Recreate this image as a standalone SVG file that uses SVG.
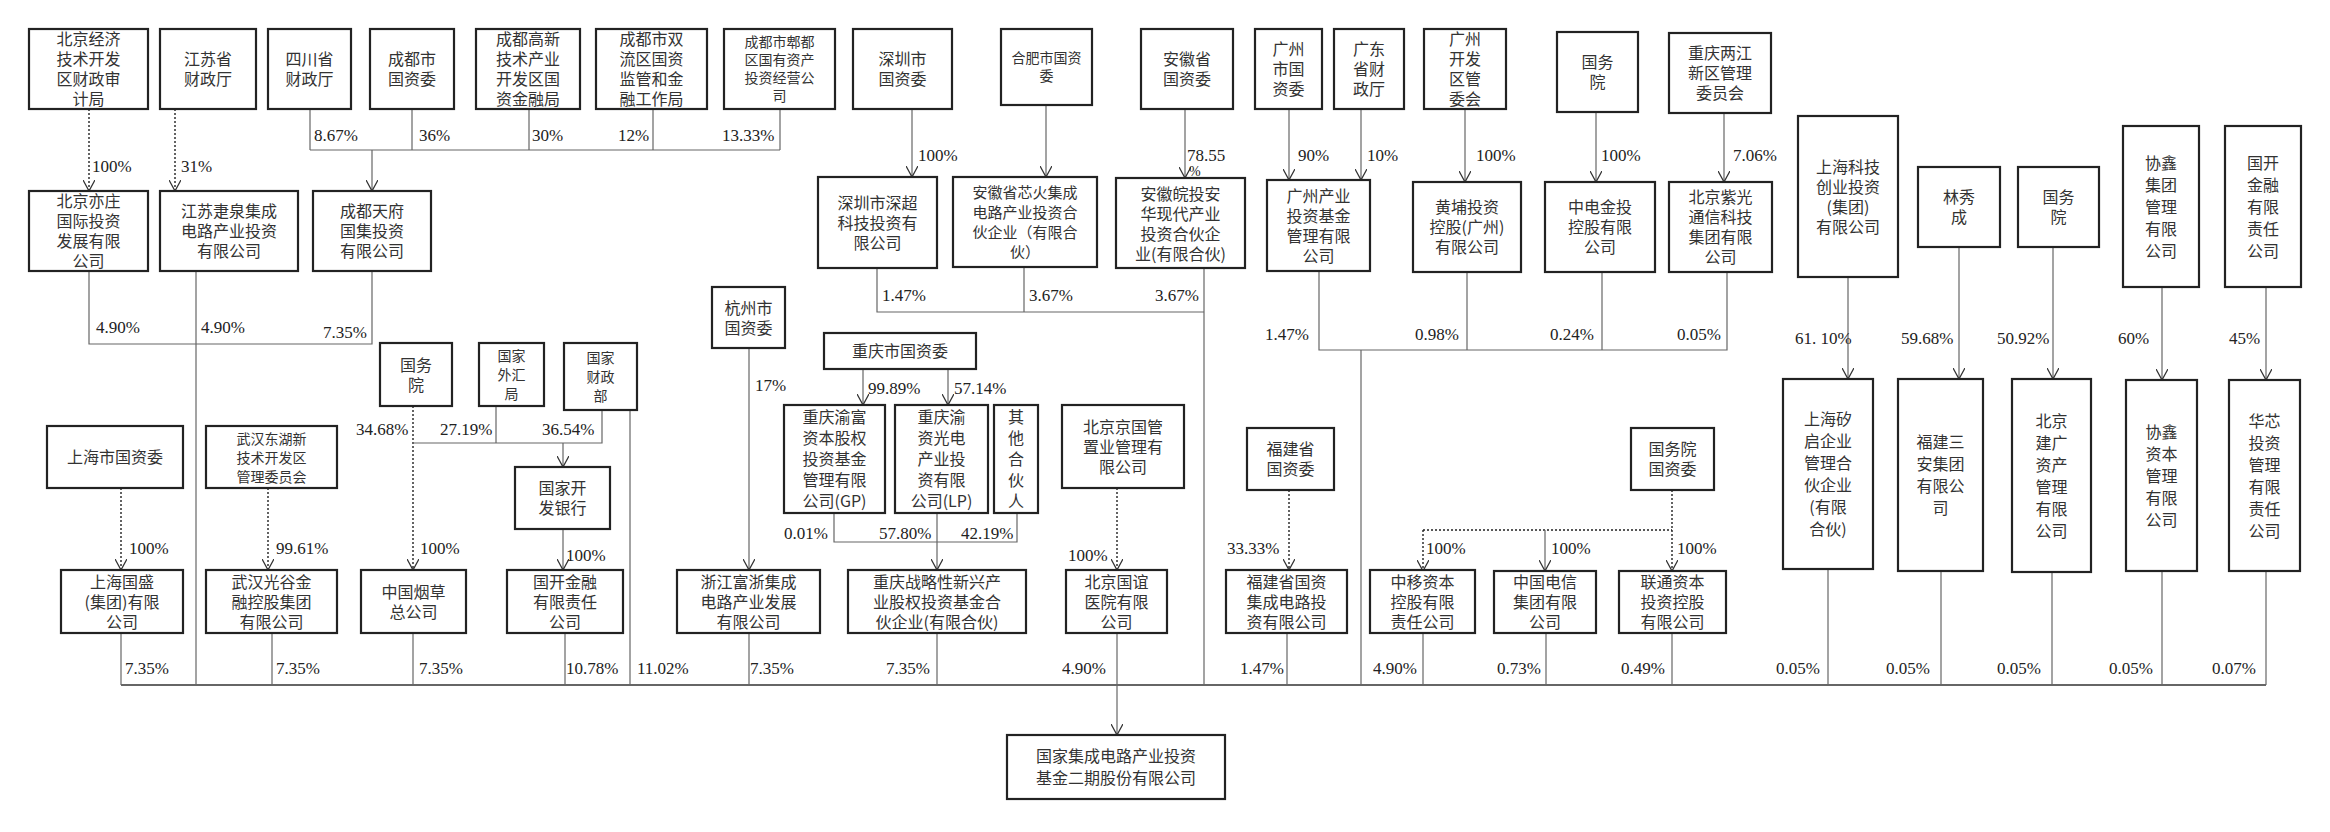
<svg xmlns="http://www.w3.org/2000/svg" width="2330" height="832" viewBox="0 0 2330 832">
<style>
rect{fill:#fff;stroke:#222;stroke-width:2.2}
.t{font-family:"Noto Sans CJK SC","Noto Sans",sans-serif;font-size:16px;fill:#333;text-anchor:middle}
.s{font-size:14px}
.m{font-size:15px}
.p{font-family:"Liberation Serif",serif;font-size:17px;fill:#222}
.c line,.c polyline{stroke:#666;stroke-width:1.2;fill:none}
.c .d{stroke:#222;stroke-dasharray:2 2;stroke-width:1.4}
</style>
<defs>
<marker id="a" viewBox="0 0 12 12" refX="11" refY="6" markerWidth="12" markerHeight="12" markerUnits="userSpaceOnUse" orient="auto"><path d="M0,0 L11,6 L0,12" fill="none" stroke="#333" stroke-width="1.3"/></marker>
</defs>
<rect x="0" y="0" width="2330" height="832" style="stroke:none"/>
<g class="c" id="connectors">
<line class="d" x1="89" y1="109" x2="89" y2="191" marker-end="url(#a)"/>
<line class="d" x1="175" y1="109" x2="175" y2="191" marker-end="url(#a)"/>
<line class="d" x1="121" y1="488" x2="121" y2="570" marker-end="url(#a)"/>
<line class="d" x1="268" y1="488" x2="268" y2="570" marker-end="url(#a)"/>
<line class="d" x1="413" y1="406" x2="413" y2="570" marker-end="url(#a)"/>
<line class="d" x1="1117" y1="488" x2="1117" y2="570" marker-end="url(#a)"/>
<line class="d" x1="1289" y1="490" x2="1289" y2="570" marker-end="url(#a)"/>
<line class="d" x1="1672" y1="490" x2="1672" y2="530"/>
<line class="d" x1="1423" y1="530" x2="1672" y2="530"/>
<line class="d" x1="1423" y1="530" x2="1423" y2="571" marker-end="url(#a)"/>
<line class="d" x1="1672" y1="530" x2="1672" y2="571" marker-end="url(#a)"/>
<line x1="1545" y1="530" x2="1545" y2="571" marker-end="url(#a)"/>
<line x1="310" y1="109" x2="310" y2="150"/><line x1="412" y1="109" x2="412" y2="150"/><line x1="529" y1="109" x2="529" y2="150"/><line x1="653" y1="109" x2="653" y2="150"/><line x1="780" y1="109" x2="780" y2="150"/>
<line x1="310" y1="150" x2="780" y2="150"/>
<line x1="372" y1="150" x2="372" y2="191" marker-end="url(#a)"/>
<polyline points="89,271 89,344 372,344 372,271"/>
<line x1="196" y1="271" x2="196" y2="685"/>
<line x1="912" y1="109" x2="912" y2="177" marker-end="url(#a)"/>
<line x1="1046" y1="105" x2="1046" y2="177" marker-end="url(#a)"/>
<line x1="1185" y1="109" x2="1185" y2="178" marker-end="url(#a)"/>
<line x1="1289" y1="109" x2="1289" y2="180" marker-end="url(#a)"/>
<line x1="1361" y1="109" x2="1361" y2="180" marker-end="url(#a)"/>
<line x1="1465" y1="109" x2="1465" y2="182" marker-end="url(#a)"/>
<line x1="1596" y1="112" x2="1596" y2="182" marker-end="url(#a)"/>
<line x1="1724" y1="113" x2="1724" y2="182" marker-end="url(#a)"/>
<polyline points="877,268 877,312 1204,312"/>
<line x1="1024" y1="267" x2="1024" y2="312"/>
<line x1="1204" y1="268" x2="1204" y2="685"/>
<polyline points="1319,271 1319,350 1727,350 1727,272"/>
<line x1="1467" y1="272" x2="1467" y2="350"/>
<line x1="1602" y1="272" x2="1602" y2="350"/>
<line x1="1361" y1="350" x2="1361" y2="685"/>
<line x1="1848" y1="277" x2="1848" y2="379" marker-end="url(#a)"/>
<line x1="1959" y1="247" x2="1959" y2="379" marker-end="url(#a)"/>
<line x1="2053" y1="247" x2="2053" y2="379" marker-end="url(#a)"/>
<line x1="2162" y1="287" x2="2162" y2="380" marker-end="url(#a)"/>
<line x1="2266" y1="287" x2="2266" y2="380" marker-end="url(#a)"/>
<line x1="1828" y1="569" x2="1828" y2="685"/><line x1="1941" y1="571" x2="1941" y2="685"/><line x1="2052" y1="572" x2="2052" y2="685"/><line x1="2162" y1="571" x2="2162" y2="685"/><line x1="2266" y1="571" x2="2266" y2="685"/>
<line x1="496" y1="406" x2="496" y2="443"/>
<polyline points="413,443 602,443 602,410"/>
<line x1="563" y1="443" x2="563" y2="467" marker-end="url(#a)"/>
<line x1="563" y1="529" x2="563" y2="570" marker-end="url(#a)"/>
<line x1="630" y1="410" x2="630" y2="685"/>
<line x1="749" y1="348" x2="749" y2="570" marker-end="url(#a)"/>
<line x1="863" y1="369" x2="863" y2="405" marker-end="url(#a)"/>
<line x1="948" y1="369" x2="948" y2="405" marker-end="url(#a)"/>
<polyline points="834,513 834,542 1017,542 1017,513"/>
<line x1="937" y1="513" x2="937" y2="570" marker-end="url(#a)"/>
<line x1="121" y1="633" x2="121" y2="685"/><line x1="272" y1="633" x2="272" y2="685"/><line x1="413" y1="633" x2="413" y2="685"/><line x1="565" y1="633" x2="565" y2="685"/><line x1="749" y1="633" x2="749" y2="685"/><line x1="937" y1="633" x2="937" y2="685"/><line x1="1117" y1="633" x2="1117" y2="685"/><line x1="1287" y1="633" x2="1287" y2="685"/><line x1="1423" y1="633" x2="1423" y2="685"/><line x1="1546" y1="633" x2="1546" y2="685"/><line x1="1672" y1="633" x2="1672" y2="685"/>
<line x1="121" y1="685" x2="2266" y2="685" style="stroke-width:1.8"/>
<line x1="1117" y1="685" x2="1117" y2="735" marker-end="url(#a)"/>
</g>
<g id="nodes">
<g id="n1"><rect x="29" y="29" width="119" height="80"/><text class="t" x="88.5" y="45"><tspan x="88.5">北京经济</tspan><tspan x="88.5" dy="20">技术开发</tspan><tspan x="88.5" dy="20">区财政审</tspan><tspan x="88.5" dy="20">计局</tspan></text></g>
<g id="n2"><rect x="160" y="29" width="96" height="80"/><text class="t" x="208" y="65"><tspan x="208">江苏省</tspan><tspan x="208" dy="20">财政厅</tspan></text></g>
<g id="n3"><rect x="268" y="29" width="83" height="80"/><text class="t" x="309.5" y="65"><tspan x="309.5">四川省</tspan><tspan x="309.5" dy="20">财政厅</tspan></text></g>
<g id="n4"><rect x="370" y="29" width="84" height="80"/><text class="t" x="412" y="65"><tspan x="412">成都市</tspan><tspan x="412" dy="20">国资委</tspan></text></g>
<g id="n5"><rect x="476" y="29" width="104" height="80"/><text class="t" x="528" y="45"><tspan x="528">成都高新</tspan><tspan x="528" dy="20">技术产业</tspan><tspan x="528" dy="20">开发区国</tspan><tspan x="528" dy="20">资金融局</tspan></text></g>
<g id="n6"><rect x="596" y="29" width="111" height="80"/><text class="t" x="651.5" y="45"><tspan x="651.5">成都市双</tspan><tspan x="651.5" dy="20">流区国资</tspan><tspan x="651.5" dy="20">监管和金</tspan><tspan x="651.5" dy="20">融工作局</tspan></text></g>
<g id="n7"><rect x="724" y="29" width="111" height="80"/><text class="t s" x="779.5" y="47"><tspan x="779.5">成都市郫都</tspan><tspan x="779.5" dy="18">区国有资产</tspan><tspan x="779.5" dy="18">投资经营公</tspan><tspan x="779.5" dy="18">司</tspan></text></g>
<g id="n8"><rect x="853" y="29" width="99" height="80"/><text class="t" x="902.5" y="65"><tspan x="902.5">深圳市</tspan><tspan x="902.5" dy="20">国资委</tspan></text></g>
<g id="n9"><rect x="1001" y="29" width="91" height="76"/><text class="t s" x="1046.5" y="63"><tspan x="1046.5">合肥市国资</tspan><tspan x="1046.5" dy="18">委</tspan></text></g>
<g id="n10"><rect x="1141" y="29" width="92" height="80"/><text class="t" x="1187" y="65"><tspan x="1187">安徽省</tspan><tspan x="1187" dy="20">国资委</tspan></text></g>
<g id="n11"><rect x="1255" y="29" width="67" height="80"/><text class="t" x="1288.5" y="55"><tspan x="1288.5">广州</tspan><tspan x="1288.5" dy="20">市国</tspan><tspan x="1288.5" dy="20">资委</tspan></text></g>
<g id="n12"><rect x="1334" y="29" width="70" height="80"/><text class="t" x="1369" y="55"><tspan x="1369">广东</tspan><tspan x="1369" dy="20">省财</tspan><tspan x="1369" dy="20">政厅</tspan></text></g>
<g id="n13"><rect x="1424" y="29" width="82" height="80"/><text class="t" x="1465" y="45"><tspan x="1465">广州</tspan><tspan x="1465" dy="20">开发</tspan><tspan x="1465" dy="20">区管</tspan><tspan x="1465" dy="20">委会</tspan></text></g>
<g id="n14"><rect x="1557" y="32" width="81" height="80"/><text class="t" x="1597.5" y="68"><tspan x="1597.5">国务</tspan><tspan x="1597.5" dy="20">院</tspan></text></g>
<g id="n15"><rect x="1669" y="33" width="102" height="80"/><text class="t" x="1720" y="59"><tspan x="1720">重庆两江</tspan><tspan x="1720" dy="20">新区管理</tspan><tspan x="1720" dy="20">委员会</tspan></text></g>
<g id="n16"><rect x="29" y="191" width="119" height="80"/><text class="t" x="88.5" y="207"><tspan x="88.5">北京亦庄</tspan><tspan x="88.5" dy="20">国际投资</tspan><tspan x="88.5" dy="20">发展有限</tspan><tspan x="88.5" dy="20">公司</tspan></text></g>
<g id="n17"><rect x="160" y="191" width="138" height="80"/><text class="t" x="229" y="217"><tspan x="229">江苏疌泉集成</tspan><tspan x="229" dy="20">电路产业投资</tspan><tspan x="229" dy="20">有限公司</tspan></text></g>
<g id="n18"><rect x="313" y="191" width="118" height="80"/><text class="t" x="372" y="217"><tspan x="372">成都天府</tspan><tspan x="372" dy="20">国集投资</tspan><tspan x="372" dy="20">有限公司</tspan></text></g>
<g id="n19"><rect x="818" y="177" width="119" height="91"/><text class="t" x="877.5" y="208.5"><tspan x="877.5">深圳市深超</tspan><tspan x="877.5" dy="20">科技投资有</tspan><tspan x="877.5" dy="20">限公司</tspan></text></g>
<g id="n20"><rect x="953" y="177" width="144" height="90"/><text class="t m" x="1025" y="198"><tspan x="1025">安徽省芯火集成</tspan><tspan x="1025" dy="20">电路产业投资合</tspan><tspan x="1025" dy="20">伙企业（有限合</tspan><tspan x="1025" dy="20">伙）</tspan></text></g>
<g id="n21"><rect x="1116" y="178" width="129" height="90"/><text class="t" x="1180.5" y="200"><tspan x="1180.5">安徽皖投安</tspan><tspan x="1180.5" dy="20">华现代产业</tspan><tspan x="1180.5" dy="20">投资合伙企</tspan><tspan x="1180.5" dy="20">业(有限合伙)</tspan></text></g>
<g id="n22"><rect x="1267" y="180" width="103" height="91"/><text class="t" x="1318.5" y="201.5"><tspan x="1318.5">广州产业</tspan><tspan x="1318.5" dy="20">投资基金</tspan><tspan x="1318.5" dy="20">管理有限</tspan><tspan x="1318.5" dy="20">公司</tspan></text></g>
<g id="n23"><rect x="1413" y="182" width="108" height="90"/><text class="t" x="1467" y="213"><tspan x="1467">黄埔投资</tspan><tspan x="1467" dy="20">控股(广州)</tspan><tspan x="1467" dy="20">有限公司</tspan></text></g>
<g id="n24"><rect x="1545" y="182" width="110" height="90"/><text class="t" x="1600" y="213"><tspan x="1600">中电金投</tspan><tspan x="1600" dy="20">控股有限</tspan><tspan x="1600" dy="20">公司</tspan></text></g>
<g id="n25"><rect x="1669" y="182" width="103" height="90"/><text class="t" x="1720.5" y="203"><tspan x="1720.5">北京紫光</tspan><tspan x="1720.5" dy="20">通信科技</tspan><tspan x="1720.5" dy="20">集团有限</tspan><tspan x="1720.5" dy="20">公司</tspan></text></g>
<g id="n26"><rect x="1798" y="116" width="100" height="161"/><text class="t" x="1848" y="172.5"><tspan x="1848">上海科技</tspan><tspan x="1848" dy="20">创业投资</tspan><tspan x="1848" dy="20">(集团)</tspan><tspan x="1848" dy="20">有限公司</tspan></text></g>
<g id="n27"><rect x="1918" y="167" width="82" height="80"/><text class="t" x="1959" y="203"><tspan x="1959">林秀</tspan><tspan x="1959" dy="20">成</tspan></text></g>
<g id="n28"><rect x="2018" y="167" width="81" height="80"/><text class="t" x="2058.5" y="203"><tspan x="2058.5">国务</tspan><tspan x="2058.5" dy="20">院</tspan></text></g>
<g id="n29"><rect x="2123" y="126" width="76" height="161"/><text class="t" x="2161" y="168.5"><tspan x="2161">协鑫</tspan><tspan x="2161" dy="22">集团</tspan><tspan x="2161" dy="22">管理</tspan><tspan x="2161" dy="22">有限</tspan><tspan x="2161" dy="22">公司</tspan></text></g>
<g id="n30"><rect x="2225" y="126" width="76" height="161"/><text class="t" x="2263" y="168.5"><tspan x="2263">国开</tspan><tspan x="2263" dy="22">金融</tspan><tspan x="2263" dy="22">有限</tspan><tspan x="2263" dy="22">责任</tspan><tspan x="2263" dy="22">公司</tspan></text></g>
<g id="n31"><rect x="1783" y="379" width="90" height="190"/><text class="t" x="1828" y="425"><tspan x="1828">上海矽</tspan><tspan x="1828" dy="22">启企业</tspan><tspan x="1828" dy="22">管理合</tspan><tspan x="1828" dy="22">伙企业</tspan><tspan x="1828" dy="22">(有限</tspan><tspan x="1828" dy="22">合伙)</tspan></text></g>
<g id="n32"><rect x="1898" y="379" width="85" height="192"/><text class="t" x="1940.5" y="448"><tspan x="1940.5">福建三</tspan><tspan x="1940.5" dy="22">安集团</tspan><tspan x="1940.5" dy="22">有限公</tspan><tspan x="1940.5" dy="22">司</tspan></text></g>
<g id="n33"><rect x="2012" y="379" width="79" height="193"/><text class="t" x="2051.5" y="426.5"><tspan x="2051.5">北京</tspan><tspan x="2051.5" dy="22">建广</tspan><tspan x="2051.5" dy="22">资产</tspan><tspan x="2051.5" dy="22">管理</tspan><tspan x="2051.5" dy="22">有限</tspan><tspan x="2051.5" dy="22">公司</tspan></text></g>
<g id="n34"><rect x="2126" y="380" width="71" height="191"/><text class="t" x="2161.5" y="437.5"><tspan x="2161.5">协鑫</tspan><tspan x="2161.5" dy="22">资本</tspan><tspan x="2161.5" dy="22">管理</tspan><tspan x="2161.5" dy="22">有限</tspan><tspan x="2161.5" dy="22">公司</tspan></text></g>
<g id="n35"><rect x="2229" y="380" width="71" height="191"/><text class="t" x="2264.5" y="426.5"><tspan x="2264.5">华芯</tspan><tspan x="2264.5" dy="22">投资</tspan><tspan x="2264.5" dy="22">管理</tspan><tspan x="2264.5" dy="22">有限</tspan><tspan x="2264.5" dy="22">责任</tspan><tspan x="2264.5" dy="22">公司</tspan></text></g>
<g id="n36"><rect x="712" y="287" width="73" height="61"/><text class="t" x="748.5" y="313.5"><tspan x="748.5">杭州市</tspan><tspan x="748.5" dy="20">国资委</tspan></text></g>
<g id="n37"><rect x="380" y="343" width="72" height="63"/><text class="t" x="416" y="370.5"><tspan x="416">国务</tspan><tspan x="416" dy="20">院</tspan></text></g>
<g id="n38"><rect x="479" y="343" width="65" height="63"/><text class="t s" x="511.5" y="361"><tspan x="511.5">国家</tspan><tspan x="511.5" dy="19">外汇</tspan><tspan x="511.5" dy="19">局</tspan></text></g>
<g id="n39"><rect x="564" y="343" width="73" height="67"/><text class="t s" x="600.5" y="363"><tspan x="600.5">国家</tspan><tspan x="600.5" dy="19">财政</tspan><tspan x="600.5" dy="19">部</tspan></text></g>
<g id="n40"><rect x="47" y="426" width="136" height="62"/><text class="t" x="115" y="463">上海市国资委</text></g>
<g id="n41"><rect x="206" y="426" width="131" height="62"/><text class="t s" x="271.5" y="444"><tspan x="271.5">武汉东湖新</tspan><tspan x="271.5" dy="19">技术开发区</tspan><tspan x="271.5" dy="19">管理委员会</tspan></text></g>
<g id="n42"><rect x="515" y="467" width="95" height="62"/><text class="t" x="562.5" y="494"><tspan x="562.5">国家开</tspan><tspan x="562.5" dy="20">发银行</tspan></text></g>
<g id="n43"><rect x="824" y="333" width="152" height="36"/><text class="t" x="900" y="357">重庆市国资委</text></g>
<g id="n44"><rect x="784" y="405" width="101" height="108"/><text class="t" x="834.5" y="423"><tspan x="834.5">重庆渝富</tspan><tspan x="834.5" dy="21">资本股权</tspan><tspan x="834.5" dy="21">投资基金</tspan><tspan x="834.5" dy="21">管理有限</tspan><tspan x="834.5" dy="21">公司(GP)</tspan></text></g>
<g id="n45"><rect x="895" y="405" width="93" height="108"/><text class="t" x="941.5" y="423"><tspan x="941.5">重庆渝</tspan><tspan x="941.5" dy="21">资光电</tspan><tspan x="941.5" dy="21">产业投</tspan><tspan x="941.5" dy="21">资有限</tspan><tspan x="941.5" dy="21">公司(LP)</tspan></text></g>
<g id="n46"><rect x="994" y="405" width="44" height="108"/><text class="t" x="1016" y="423"><tspan x="1016">其</tspan><tspan x="1016" dy="21">他</tspan><tspan x="1016" dy="21">合</tspan><tspan x="1016" dy="21">伙</tspan><tspan x="1016" dy="21">人</tspan></text></g>
<g id="n47"><rect x="1062" y="405" width="122" height="83"/><text class="t" x="1123" y="432.5"><tspan x="1123">北京京国管</tspan><tspan x="1123" dy="20">置业管理有</tspan><tspan x="1123" dy="20">限公司</tspan></text></g>
<g id="n48"><rect x="1247" y="428" width="87" height="62"/><text class="t" x="1290.5" y="455"><tspan x="1290.5">福建省</tspan><tspan x="1290.5" dy="20">国资委</tspan></text></g>
<g id="n49"><rect x="1631" y="428" width="83" height="62"/><text class="t" x="1672.5" y="455"><tspan x="1672.5">国务院</tspan><tspan x="1672.5" dy="20">国资委</tspan></text></g>
<g id="n50"><rect x="61" y="570" width="122" height="63"/><text class="t" x="122" y="587.5"><tspan x="122">上海国盛</tspan><tspan x="122" dy="20">(集团)有限</tspan><tspan x="122" dy="20">公司</tspan></text></g>
<g id="n51"><rect x="206" y="570" width="131" height="63"/><text class="t" x="271.5" y="587.5"><tspan x="271.5">武汉光谷金</tspan><tspan x="271.5" dy="20">融控股集团</tspan><tspan x="271.5" dy="20">有限公司</tspan></text></g>
<g id="n52"><rect x="361" y="570" width="105" height="63"/><text class="t" x="413.5" y="597.5"><tspan x="413.5">中国烟草</tspan><tspan x="413.5" dy="20">总公司</tspan></text></g>
<g id="n53"><rect x="507" y="570" width="116" height="63"/><text class="t" x="565" y="587.5"><tspan x="565">国开金融</tspan><tspan x="565" dy="20">有限责任</tspan><tspan x="565" dy="20">公司</tspan></text></g>
<g id="n54"><rect x="677" y="570" width="143" height="63"/><text class="t" x="748.5" y="587.5"><tspan x="748.5">浙江富浙集成</tspan><tspan x="748.5" dy="20">电路产业发展</tspan><tspan x="748.5" dy="20">有限公司</tspan></text></g>
<g id="n55"><rect x="848" y="570" width="178" height="63"/><text class="t" x="937" y="587.5"><tspan x="937">重庆战略性新兴产</tspan><tspan x="937" dy="20">业股权投资基金合</tspan><tspan x="937" dy="20">伙企业(有限合伙)</tspan></text></g>
<g id="n56"><rect x="1066" y="570" width="101" height="63"/><text class="t" x="1116.5" y="587.5"><tspan x="1116.5">北京国谊</tspan><tspan x="1116.5" dy="20">医院有限</tspan><tspan x="1116.5" dy="20">公司</tspan></text></g>
<g id="n57"><rect x="1226" y="570" width="121" height="63"/><text class="t" x="1286.5" y="587.5"><tspan x="1286.5">福建省国资</tspan><tspan x="1286.5" dy="20">集成电路投</tspan><tspan x="1286.5" dy="20">资有限公司</tspan></text></g>
<g id="n58"><rect x="1370" y="570" width="105" height="63"/><text class="t" x="1422.5" y="587.5"><tspan x="1422.5">中移资本</tspan><tspan x="1422.5" dy="20">控股有限</tspan><tspan x="1422.5" dy="20">责任公司</tspan></text></g>
<g id="n59"><rect x="1494" y="571" width="102" height="62"/><text class="t" x="1545" y="588"><tspan x="1545">中国电信</tspan><tspan x="1545" dy="20">集团有限</tspan><tspan x="1545" dy="20">公司</tspan></text></g>
<g id="n60"><rect x="1619" y="571" width="107" height="62"/><text class="t" x="1672.5" y="588"><tspan x="1672.5">联通资本</tspan><tspan x="1672.5" dy="20">投资控股</tspan><tspan x="1672.5" dy="20">有限公司</tspan></text></g>
<g id="n61"><rect x="1007" y="735" width="218" height="64"/><text class="t" x="1116" y="762"><tspan x="1116">国家集成电路产业投资</tspan><tspan x="1116" dy="22">基金二期股份有限公司</tspan></text></g>
</g>
<g id="labels" class="p">
<text x="92" y="172">100%</text><text x="181" y="172">31%</text>
<text x="314" y="141">8.67%</text><text x="419" y="141">36%</text><text x="532" y="141">30%</text><text x="618" y="141">12%</text><text x="722" y="141">13.33%</text>
<text x="96" y="333">4.90%</text><text x="201" y="333">4.90%</text><text x="323" y="338">7.35%</text>
<text x="918" y="161">100%</text><text x="1187" y="161">78.55</text><text x="1189" y="176" style="font-size:14px">%</text>
<text x="1298" y="161">90%</text><text x="1367" y="161">10%</text><text x="1476" y="161">100%</text><text x="1601" y="161">100%</text><text x="1733" y="161">7.06%</text>
<text x="882" y="301">1.47%</text><text x="1029" y="301">3.67%</text><text x="1155" y="301">3.67%</text>
<text x="1265" y="340">1.47%</text><text x="1415" y="340">0.98%</text><text x="1550" y="340">0.24%</text><text x="1677" y="340">0.05%</text>
<text x="1795" y="344">61. 10%</text><text x="1901" y="344">59.68%</text><text x="1997" y="344">50.92%</text><text x="2118" y="344">60%</text><text x="2229" y="344">45%</text>
<text x="755" y="391">17%</text>
<text x="356" y="435">34.68%</text><text x="440" y="435">27.19%</text><text x="542" y="435">36.54%</text>
<text x="129" y="554">100%</text><text x="276" y="554">99.61%</text><text x="420" y="554">100%</text><text x="566" y="561">100%</text>
<text x="868" y="394">99.89%</text><text x="954" y="394">57.14%</text>
<text x="784" y="539">0.01%</text><text x="879" y="539">57.80%</text><text x="961" y="539">42.19%</text>
<text x="1068" y="561">100%</text><text x="1227" y="554">33.33%</text><text x="1426" y="554">100%</text><text x="1551" y="554">100%</text><text x="1677" y="554">100%</text>
<text x="125" y="674">7.35%</text><text x="276" y="674">7.35%</text><text x="419" y="674">7.35%</text><text x="566" y="674">10.78%</text><text x="637" y="674">11.02%</text><text x="750" y="674">7.35%</text><text x="886" y="674">7.35%</text><text x="1062" y="674">4.90%</text><text x="1240" y="674">1.47%</text><text x="1373" y="674">4.90%</text><text x="1497" y="674">0.73%</text><text x="1621" y="674">0.49%</text><text x="1776" y="674">0.05%</text><text x="1886" y="674">0.05%</text><text x="1997" y="674">0.05%</text><text x="2109" y="674">0.05%</text><text x="2212" y="674">0.07%</text>
</g>
</svg>
